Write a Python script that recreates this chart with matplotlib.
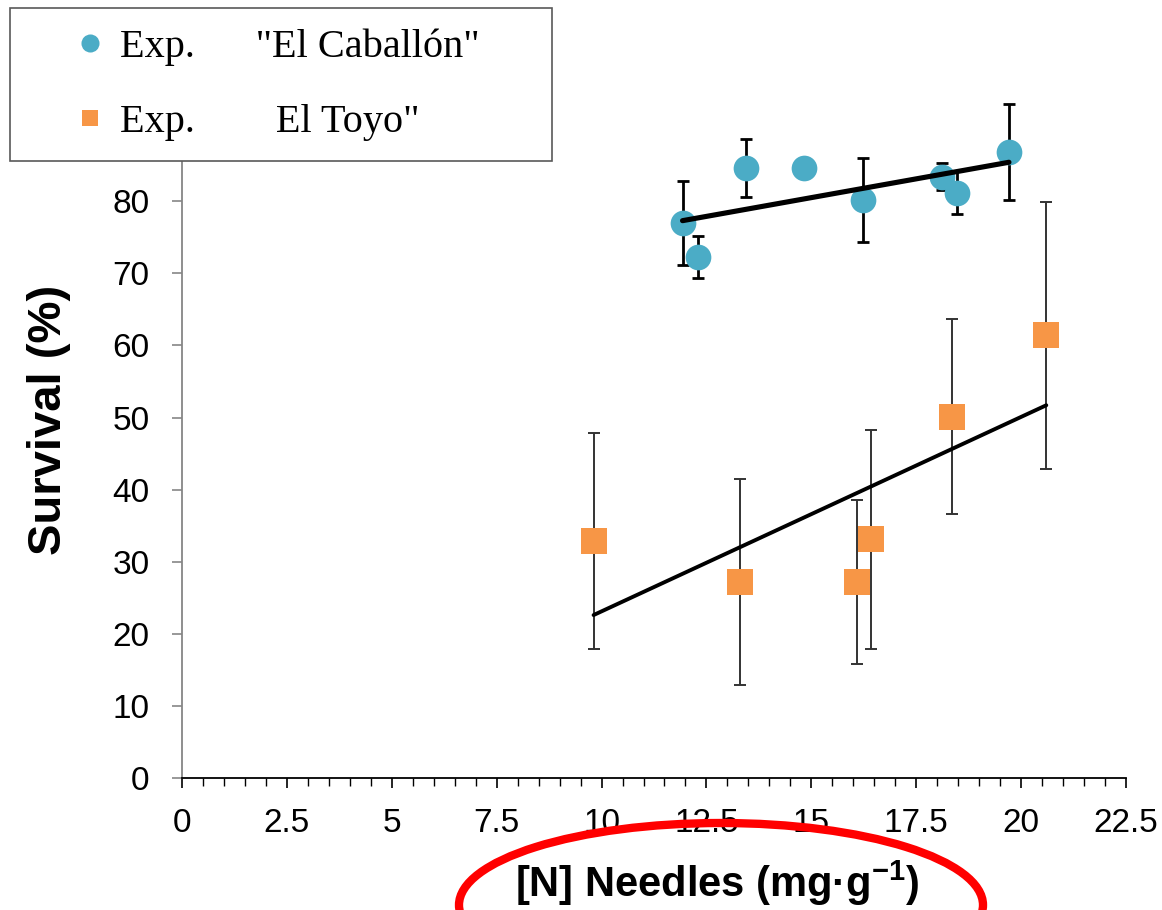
import matplotlib
matplotlib.use('Agg')
import matplotlib.pyplot as plt
from matplotlib.lines import Line2D
from matplotlib.patches import Ellipse
from matplotlib.ticker import MultipleLocator

# ---------------- data ----------------
cab_x = [11.93, 12.31, 13.45, 14.83, 16.24, 18.12, 18.48, 19.71]
cab_y = [77.0, 72.3, 84.6, 84.6, 80.2, 83.4, 81.2, 86.8]
cab_err = [5.8, 2.9, 4.0, 0.0, 5.8, 1.9, 3.0, 6.7]
cab_trend_x = [11.93, 19.71]
cab_trend_y = [77.3, 85.4]

toy_x = [9.81, 13.31, 16.10, 16.43, 18.36, 20.60]
toy_y = [32.9, 27.2, 27.2, 33.1, 50.1, 61.4]
toy_err = [15.0, 14.3, 11.4, 15.2, 13.5, 18.5]
toy_trend_x = [9.81, 20.60]
toy_trend_y = [22.6, 51.7]

x_ticks = [0, 2.5, 5, 7.5, 10, 12.5, 15, 17.5, 20, 22.5]
x_tick_labels = ['0', '2.5', '5', '7.5', '10', '12.5', '15', '17.5', '20', '22.5']
y_ticks = [0, 10, 20, 30, 40, 50, 60, 70, 80]

legend_labels = ['Exp.      "El Caballón"', 'Exp.        El Toyo"']
x_label = '[N] Needles (mg·g$^{-1}$)'
y_label = 'Survival (%)'

# ---------------- style ----------------
BLUE = '#4BACC6'
ORANGE = '#F79646'
plt.rcParams['font.family'] = ['Liberation Sans', 'DejaVu Sans']
plt.rcParams['mathtext.fontset'] = 'custom'
plt.rcParams['mathtext.rm'] = 'Liberation Sans:bold'
plt.rcParams['mathtext.default'] = 'rm'

W, H = 1162, 910
fig = plt.figure(figsize=(W / 100, H / 100), dpi=100)
ax = fig.add_axes([182 / W, 132 / H, 944 / W, 721 / H])

# error bars
ax.errorbar(cab_x, cab_y, yerr=cab_err, fmt='none', ecolor='black',
            elinewidth=2.0, capsize=4.5, capthick=2.0, zorder=2)
ax.errorbar(toy_x, toy_y, yerr=toy_err, fmt='none', ecolor='#333333',
            elinewidth=1.4, capsize=4.2, capthick=1.4, zorder=2)

# markers
ax.plot(cab_x, cab_y, linestyle='none', marker='o', markersize=18.5,
        markerfacecolor=BLUE, markeredgewidth=0, zorder=3)
ax.plot(toy_x, toy_y, linestyle='none', marker='s', markersize=18.5,
        markerfacecolor=ORANGE, markeredgewidth=0, zorder=3)

# trend lines
ax.plot(cab_trend_x, cab_trend_y, color='black', linewidth=3.7,
        solid_capstyle='round', zorder=4)
ax.plot(toy_trend_x, toy_trend_y, color='black', linewidth=2.8,
        solid_capstyle='round', zorder=4)

ax.set_xlim(0, 22.5)
ax.set_ylim(0, 100)
ax.set_xticks(x_ticks)
ax.set_xticklabels(x_tick_labels)
ax.xaxis.set_minor_locator(MultipleLocator(0.5))
ax.set_yticks(y_ticks)

for s in ['top', 'right']:
    ax.spines[s].set_visible(False)
ax.spines['left'].set_color('#868686')
ax.spines['left'].set_linewidth(1.3)
ax.spines['bottom'].set_color('black')
ax.spines['bottom'].set_linewidth(1.3)

ax.tick_params(axis='x', which='major', direction='out', length=7.5, width=1.2,
               color='black', labelsize=24, pad=14)
ax.tick_params(axis='x', which='minor', direction='out', length=5.5, width=1.0,
               color='black')
ax.tick_params(axis='y', which='major', direction='out', length=7.5, width=1.2,
               color='#868686', labelsize=24, pad=16)

ax.set_xlabel(x_label, fontsize=30, fontweight='bold', labelpad=14)
ax.xaxis.label.set_x((717 - 182) / 944)
ax.set_ylabel(y_label, fontsize=34, fontweight='bold', labelpad=30)
ax.yaxis.label.set_y((778 - 420) / 721)

# legend
handles = [
    Line2D([], [], linestyle='none', marker='o', markersize=13,
           markerfacecolor=BLUE, markeredgewidth=0),
    Line2D([], [], linestyle='none', marker='s', markersize=12,
           markerfacecolor=ORANGE, markeredgewidth=0),
]
leg = fig.legend(handles, legend_labels, loc='upper left',
                 bbox_to_anchor=(10 / W, 1 - 158 / H, 542 / W, 150 / H),
                 mode='expand', borderaxespad=0, frameon=True, fancybox=False,
                 framealpha=1, edgecolor='#595959',
                 prop={'family': 'Liberation Serif', 'size': 29},
                 handlelength=2.98, handletextpad=-0.74, borderpad=0.5,
                 labelspacing=0.95)
leg.get_frame().set_linewidth(1.2)
leg.set_zorder(10)

# red annotation ellipse around the x label
ell = Ellipse((721 / W, 1 - 905 / H), 524 / W, 164 / H, transform=fig.transFigure,
              fill=False, edgecolor='#FF0000', linewidth=6, zorder=20)
fig.add_artist(ell)

fig.savefig('out.png', dpi=100)
